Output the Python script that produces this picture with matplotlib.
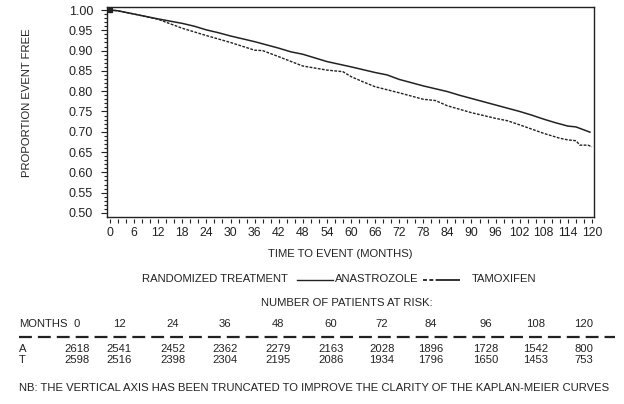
# Kaplan-Meier curves: anastrozole vs tamoxifen
import matplotlib
matplotlib.use("Agg")
import matplotlib.pyplot as plt
from matplotlib.lines import Line2D

plt.rcParams['font.family'] = ['Liberation Sans', 'DejaVu Sans']

# curve data
months_a = [0, 2, 6, 12, 18, 21, 24, 27, 30, 36, 42, 45, 48, 54, 60, 66, 69, 72,
            78, 84, 87, 90, 96, 102, 105, 108, 111, 114, 116, 119.5]
anastrozole = [1.000, 0.998, 0.990, 0.978, 0.967, 0.960, 0.951, 0.944, 0.936, 0.922,
               0.906, 0.897, 0.891, 0.873, 0.860, 0.846, 0.840, 0.829, 0.813, 0.799,
               0.790, 0.782, 0.766, 0.750, 0.741, 0.731, 0.722, 0.714, 0.712, 0.699]

months_t = [0, 2, 6, 12, 15, 18, 24, 30, 36, 38, 42, 48, 54, 58, 60, 63, 66, 72, 78,
            81, 84, 90, 96, 99, 102, 108, 112, 114, 116, 117, 119, 120]
tamoxifen = [1.000, 0.998, 0.990, 0.977, 0.966, 0.955, 0.937, 0.920, 0.901, 0.900,
             0.885, 0.862, 0.852, 0.848, 0.836, 0.823, 0.811, 0.796, 0.780, 0.777,
             0.764, 0.747, 0.733, 0.727, 0.717, 0.696, 0.684, 0.680, 0.678, 0.667,
             0.667, 0.663]

# patients at risk table
risk_months = [0, 12, 24, 36, 48, 60, 72, 84, 96, 108, 120]
risk_a = [2618, 2541, 2452, 2362, 2279, 2163, 2028, 1896, 1728, 1542, 800]
risk_t = [2598, 2516, 2398, 2304, 2195, 2086, 1934, 1796, 1650, 1453, 753]

W, H = 624, 404
fig = plt.figure(figsize=(W / 100, H / 100), dpi=100)


def fx(px):
    return px / W


def fy(py):
    return 1 - py / H


ax = fig.add_axes([fx(107), fy(217), fx(594) - fx(107), fy(7) - fy(217)])
ink = '#222222'

ax.plot(months_a, anastrozole, color=ink, lw=1.1)
ax.plot(months_t, tamoxifen, color=ink, lw=1.0, linestyle=(0, (2, 1)))
ax.plot(months_a[0], anastrozole[0], 's', color=ink, ms=3)

ax.set_xlim(-0.75, 120.5)
ax.set_ylim(0.490, 1.0074)
ax.set_xticks(range(0, 121, 6))
ax.set_xticks(range(0, 121, 2), minor=True)
ax.set_yticks([0.5 + 0.05 * i for i in range(11)])
ax.set_yticklabels(['%.2f' % (0.5 + 0.05 * i) for i in range(11)])
ax.set_yticks([0.5 + 0.01 * i for i in range(51)], minor=True)

for s in ax.spines.values():
    s.set_color(ink)
    s.set_linewidth(1.0)
ax.spines['bottom'].set_position(('outward', 1.5))
ax.spines['bottom'].set_color('none')
ax.plot([0, 1], [0, 0], transform=ax.transAxes, color=ink, lw=1.0, clip_on=False)

ax.tick_params(axis='both', which='both', colors=ink, labelsize=9, width=0.8)
ax.tick_params(axis='x', which='both', length=3, pad=3)
ax.tick_params(axis='x', which='major', labelsize=8.8)
ax.tick_params(axis='y', which='major', length=4, pad=6)
ax.tick_params(axis='y', which='minor', length=2.5)

fs = 8.1
fig.text(fx(27), fy(103), 'PROPORTION EVENT FREE', rotation=90, ha='center',
         va='center', fontsize=fs, color=ink)
fig.text(fx(340), fy(254), 'TIME TO EVENT (MONTHS)', ha='center', va='center',
         fontsize=fs, color=ink)

# legend row
ly = fy(279.5)
fig.text(fx(142), ly, 'RANDOMIZED TREATMENT', ha='left', va='center', fontsize=fs, color=ink)
fig.add_artist(Line2D([fx(297), fx(333)], [ly, ly], color=ink, lw=1.0))
fig.text(fx(335), ly, 'ANASTROZOLE', ha='left', va='center', fontsize=fs, color=ink)
fig.add_artist(Line2D([fx(423), fx(460)], [ly, ly], color=ink, lw=1.3,
                      linestyle=(0, (2.2, 1.3, 2.2, 1.3, 20, 0))))
fig.text(fx(472), ly, 'TAMOXIFEN', ha='left', va='center', fontsize=fs, color=ink)

fig.text(fx(347), fy(303), 'NUMBER OF PATIENTS AT RISK:', ha='center', va='center',
         fontsize=fs, color=ink)

# at risk table
cols = [77, 119, 173, 225, 278, 331, 382, 431, 486, 536, 584]
fig.text(fx(19), fy(324), 'MONTHS', ha='left', va='center', fontsize=fs, color=ink)
fig.add_artist(Line2D([fx(19), fx(615)], [fy(337), fy(337)], color=ink, lw=1.6,
                      linestyle=(0, (5.8, 2.7))))
fig.text(fx(19), fy(349), 'A', ha='left', va='center', fontsize=fs, color=ink)
fig.text(fx(19), fy(360), 'T', ha='left', va='center', fontsize=fs, color=ink)
for c, m, a, t in zip(cols, risk_months, risk_a, risk_t):
    fig.text(fx(c), fy(324), str(m), ha='center', va='center', fontsize=fs, color=ink)
    fig.text(fx(c), fy(349), str(a), ha='center', va='center', fontsize=fs, color=ink)
    fig.text(fx(c), fy(360), str(t), ha='center', va='center', fontsize=fs, color=ink)

fig.text(fx(19), fy(388), 'NB: THE VERTICAL AXIS HAS BEEN TRUNCATED TO IMPROVE THE '
         'CLARITY OF THE KAPLAN-MEIER CURVES', ha='left', va='center', fontsize=fs, color=ink)

fig.savefig('out.png', dpi=100)
